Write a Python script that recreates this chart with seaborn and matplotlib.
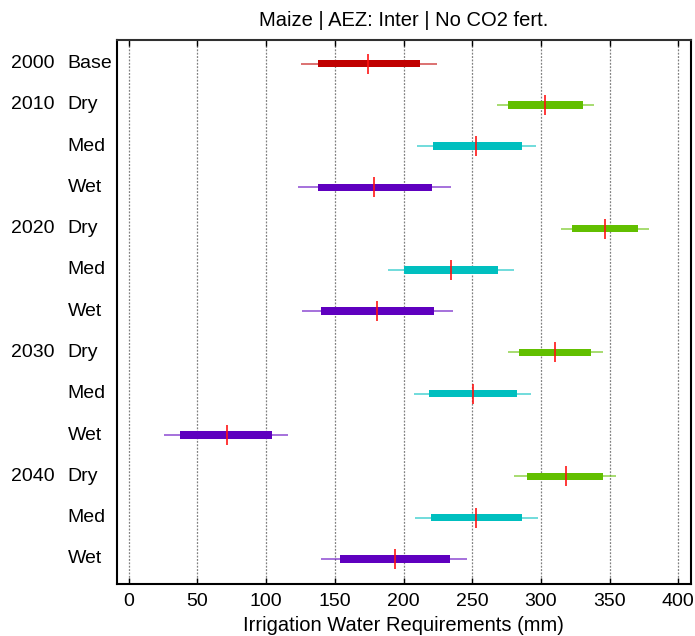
import numpy as np
import pandas as pd
import matplotlib
matplotlib.use("Agg")
import matplotlib.pyplot as plt
import matplotlib.transforms as mtransforms
import seaborn as sns

# Irrigation water requirement distributions (mm), one row per period/scenario
years = ["2000", "2010", "", "", "2020", "", "", "2030", "", "", "2040", "", ""]
scenarios = ["Base", "Dry", "Med", "Wet", "Dry", "Med", "Wet",
             "Dry", "Med", "Wet", "Dry", "Med", "Wet"]
whisker_lo = [125.3, 267.9, 210.1, 123.1, 314.7, 189.0, 126.4, 276.1, 207.5, 25.8, 280.5, 208.4, 140.3]
q1 = [138.1, 276.1, 221.3, 138.1, 322.7, 200.7, 140.3, 284.1, 218.9, 37.4, 289.7, 220.1, 153.7]
median = [174.5, 303.3, 253.1, 178.8, 346.7, 234.9, 181.0, 310.1, 250.7, 71.6, 318.1, 253.1, 193.8]
q3 = [212.1, 330.7, 286.1, 220.8, 370.5, 269.1, 222.3, 336.3, 282.7, 104.6, 345.5, 286.3, 233.6]
whisker_hi = [224.5, 338.8, 296.3, 234.6, 378.7, 280.3, 236.1, 345.5, 293.1, 116.0, 354.7, 297.7, 246.0]
xticks = [0, 50, 100, 150, 200, 250, 300, 350, 400]

palette = {"Base": "#C00000", "Dry": "#62BF00", "Med": "#00BFBF", "Wet": "#5F00BF"}

# unique row keys (year carried forward)
row_keys = []
cur = ""
for y, s in zip(years, scenarios):
    cur = y or cur
    row_keys.append(f"{cur} {s}")

# five summary values per row -> quartiles/whiskers reproduced exactly by the boxplot
records = []
for key, s, a, b, c, d, e in zip(row_keys, scenarios, whisker_lo, q1, median, q3, whisker_hi):
    for v in (a, b, c, d, e):
        records.append({"row": key, "scenario": s, "irr": v})
df = pd.DataFrame(records)
med_df = pd.DataFrame({"row": row_keys, "irr": median})

sns.set_theme(style="white")
plt.rcParams["font.family"] = ["Liberation Sans", "DejaVu Sans"]
plt.rcParams["text.color"] = "black"
plt.rcParams["axes.labelcolor"] = "black"
plt.rcParams["xtick.color"] = "black"

fig = plt.figure(figsize=(6.95, 6.36), dpi=100)
ax = fig.add_axes([0.168, 0.0824, 0.826, 0.8547])

sns.boxplot(data=df, x="irr", y="row", hue="scenario", palette=palette,
            order=row_keys, dodge=False, whis=np.inf, width=0.18,
            showcaps=False, showfliers=False, legend=False, saturation=1,
            boxprops=dict(linewidth=0, edgecolor="none"),
            whiskerprops=dict(linewidth=1.3),
            medianprops=dict(visible=False), ax=ax)

# whiskers in a lighter shade of each box colour
for line in ax.lines:
    xd, yd = np.asarray(line.get_xdata(), float), np.asarray(line.get_ydata(), float)
    if len(yd) == 2 and yd[0] == yd[1] and xd[0] != xd[1]:
        r = int(round(yd[0]))
        line.set_color(palette[scenarios[r]])
        line.set_alpha(0.6)

sns.scatterplot(data=med_df, x="irr", y="row", marker="|", s=210,
                color="#FF1010", linewidth=1.3, alpha=0.9, zorder=5,
                legend=False, ax=ax)

ax.set_xlim(-8.7, 409.1)
ax.set_ylim(12.6, -0.57)
ax.set_xticks(xticks)
ax.set_xticklabels([str(t) for t in xticks])
ax.tick_params(axis="x", direction="in", top=True, bottom=True, length=4,
               width=1, labelsize=14, pad=7, colors="black")
ax.tick_params(axis="y", left=False, labelleft=False)
ax.set_ylabel("")
ax.set_xlabel("Irrigation Water Requirements (mm)", fontsize=14.5, labelpad=4, color="black")
ax.set_title("Maize | AEZ: Inter | No CO2 fert.", fontsize=14.5, pad=10, color="black")

ax.xaxis.grid(True, color="#808080", linestyle=(0, (1.5, 1.2)), linewidth=0.9)
ax.set_axisbelow(True)
for sp in ax.spines.values():
    sp.set_visible(True)
    sp.set_color("black")
    sp.set_linewidth(1.5)
ax.spines["top"].set_color("#303030")

# two-column row labels: year and scenario
trans = mtransforms.blended_transform_factory(fig.transFigure, ax.transData)
for i, (y, s) in enumerate(zip(years, scenarios)):
    if y:
        ax.text(11 / 695, i, y, transform=trans, va="center", ha="left",
                fontsize=14, color="black")
    ax.text(67.7 / 695, i, s, transform=trans, va="center", ha="left",
            fontsize=14, color="black")

fig.savefig("out.png", dpi=100)
